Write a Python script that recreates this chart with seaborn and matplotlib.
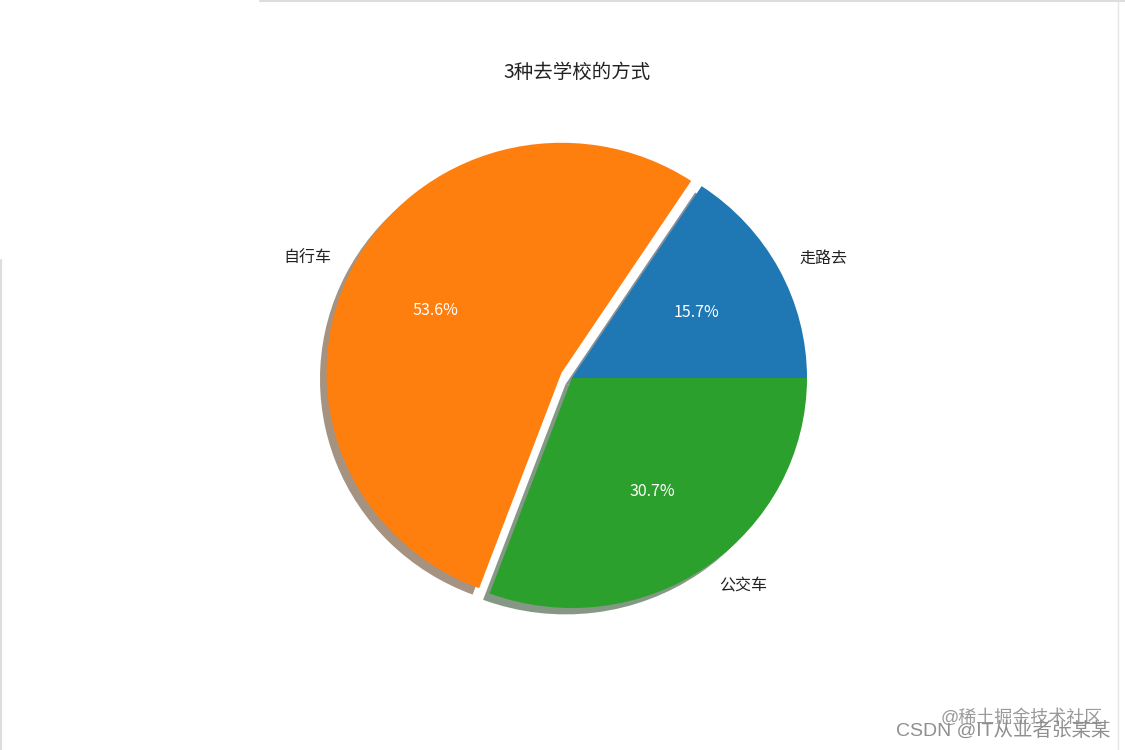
import matplotlib
matplotlib.use("Agg")
import matplotlib.pyplot as plt
import seaborn as sns
from matplotlib.lines import Line2D

# data
labels = ["走路去", "自行车", "公交车"]
shares = [15.7, 53.6, 30.7]
explode = [0, 0.05, 0]
title = "3种去学校的方式"
watermark_1 = "@稀土掘金技术社区"
watermark_2 = "CSDN @IT从业者张某某"

sns.set_theme(style="white")
plt.rcParams['font.family'] = ['Noto Sans CJK SC', 'DejaVu Sans']
plt.rcParams['axes.unicode_minus'] = False

colors = sns.color_palette("tab10", 3)

fig = plt.figure(figsize=(11.25, 7.5), dpi=100)
fig.patch.set_facecolor("white")

W, H = 1125.0, 750.0
cx, cy = 572.0, 378.0
rx, ry = 235.0, 230.0
aw, ah = 2.5 * rx, 2.5 * ry
ax = fig.add_axes([(cx - aw / 2) / W, (H - cy - ah / 2) / H, aw / W, ah / H])

wedges, texts, autotexts = ax.pie(
    shares, labels=labels, explode=explode, colors=colors,
    autopct="%1.1f%%", shadow=True, startangle=0,
    wedgeprops=dict(linewidth=0),
    textprops=dict(fontsize=11.5, color="#222222"),
)
for t in autotexts:
    t.set_color("white")
ax.set_aspect("auto")
ax.set_xlim(-1.25, 1.25)
ax.set_ylim(-1.25, 1.25)
ax.set_position([(cx - aw / 2) / W, (H - cy - ah / 2) / H, aw / W, ah / H])

fig.text(577 / W, 1 - 72 / H, title, ha="center", va="center", fontsize=14, color="#222222")

fig.text(1103 / W, 1 - 718 / H, watermark_1, ha="right", va="center", fontsize=13,
         color="#9a9a9a", family=['Liberation Sans', 'Noto Sans CJK SC'])
fig.text(1110 / W, 1 - 731 / H, watermark_2, ha="right", va="center", fontsize=14,
         color="#8f8f8f", family=['Liberation Sans', 'Noto Sans CJK SC'])

# faint screenshot borders
fig.add_artist(Line2D([260 / W, 1.0], [1 - 1 / H, 1 - 1 / H], color="#dddddd", lw=1.5))
fig.add_artist(Line2D([1 / W, 1 / W], [0, 1 - 260 / H], color="#dddddd", lw=1.5))
fig.add_artist(Line2D([1118 / W, 1118 / W], [0, 1 - 1 / H], color="#e6e6e6", lw=1))

fig.savefig("out.png", dpi=100, facecolor="white")
